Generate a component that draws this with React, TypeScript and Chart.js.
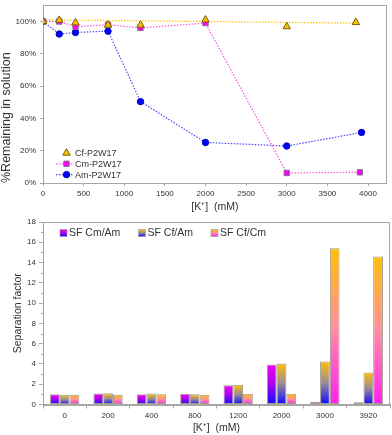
import React, { useEffect, useRef } from 'react';
import { Chart, registerables } from 'chart.js';

Chart.register(...registerables);

// ---------- Top chart data ----------
const cfX = [0, 200, 400, 800, 1200, 2000, 3000, 3850];
const cfY = [100, 100.8, 99.2, 97.8, 97.8, 101, 96.8, 99.4];
const cmX = [0, 200, 400, 800, 1200, 2000, 3000, 3900];
const cmY = [100, 100, 96.8, 98, 96, 99, 6.2, 6.6];
const amX = [0, 200, 400, 800, 1200, 2000, 3000, 3920];
const amY = [100, 92.2, 93.2, 94, 50.4, 25.1, 22.9, 31.3];
const cfTrendX = [0, 3850];
const cfTrendY = [101, 99];
const topXTicks = [0, 500, 1000, 1500, 2000, 2500, 3000, 3500, 4000];
const topYTicks = [0, 20, 40, 60, 80, 100];
const topLabels = ['Cf-P2W17', 'Cm-P2W17', 'Am-P2W17'];

// ---------- Bottom chart data ----------
const sfCategories = ['0', '200', '400', '800', '1200', '2000', '3000', '3920'];
const sfCmAm = [1.02, 1.09, 1.02, 1.05, 1.91, 3.95, 0.26, 0.23];
const sfCfAm = [0.97, 1.12, 1.09, 1.02, 1.94, 4.05, 4.24, 3.16];
const sfCfCm = [0.95, 0.95, 1.02, 0.95, 1.05, 1.05, 15.4, 14.6];
const sfLabels = ['SF Cm/Am', 'SF Cf/Am', 'SF Cf/Cm'];
const sfYTicks = [0, 2, 4, 6, 8, 10, 12, 14, 16, 18];

const FONT = "'Liberation Sans', Arial, sans-serif";
const AXIS = '#a6a6a6';
const TEXT = '#333333';

type Stop = [number, string];
const gradCmAm: Stop[] = [[0, '#f200f2'], [0.45, '#b400f0'], [1, '#1010ff']];
const gradCfAm: Stop[] = [[0, '#ffc000'], [0.5, '#9a8a9a'], [1, '#0a0aff']];
const gradCfCm: Stop[] = [[0, '#ffc000'], [0.5, '#ff90a0'], [1, '#ff22ee']];

function barGradient(stops: Stop[]) {
  return (c: any) => {
    const chart = c.chart;
    const ys = chart.scales && chart.scales.y;
    if (c.type !== 'data' || !ys || !chart.chartArea) return stops[0][1];
    const v = c.parsed ? c.parsed.y : 0;
    const top = ys.getPixelForValue(v);
    const bottom = ys.getPixelForValue(0);
    if (!isFinite(top) || !isFinite(bottom) || Math.abs(bottom - top) < 0.5) return stops[0][1];
    const g = chart.ctx.createLinearGradient(0, top, 0, bottom);
    stops.forEach(([o, col]) => g.addColorStop(o, col));
    return g;
  };
}

const boxPlugin = {
  id: 'boxPlugin',
  beforeDatasetsDraw(chart: any) {
    const { ctx, chartArea: a } = chart;
    ctx.save();
    ctx.strokeStyle = AXIS;
    ctx.lineWidth = 1;
    ctx.strokeRect(Math.round(a.left) + 0.5, Math.round(a.top) + 0.5, Math.round(a.right - a.left) - 1, Math.round(a.bottom - a.top));
    ctx.restore();
  },
};

function drawMarker(ctx: CanvasRenderingContext2D, style: string, x: number, y: number, r: number, fill: string, stroke: string) {
  ctx.beginPath();
  if (style === 'triangle') {
    ctx.moveTo(x, y - r);
    ctx.lineTo(x + r * 0.866, y + r * 0.5);
    ctx.lineTo(x - r * 0.866, y + r * 0.5);
    ctx.closePath();
  } else if (style === 'rect') {
    const s = r * Math.SQRT1_2;
    ctx.rect(x - s, y - s, 2 * s, 2 * s);
  } else {
    ctx.arc(x, y, r, 0, Math.PI * 2);
  }
  ctx.fillStyle = fill;
  ctx.fill();
  ctx.strokeStyle = stroke;
  ctx.lineWidth = 1;
  ctx.stroke();
}

const topLegendPlugin = {
  id: 'topLegend',
  afterDatasetsDraw(chart: any) {
    const { ctx, chartArea: a } = chart;
    ctx.save();
    ctx.font = `9px ${FONT}`;
    ctx.textBaseline = 'middle';
    ctx.textAlign = 'left';
    chart.data.datasets.forEach((d: any, i: number) => {
      if (!d.inLegend) return;
      const y = a.bottom - 30 + i * 10.8;
      const mx = a.left + 23.5;
      if (d.showLine) {
        ctx.save();
        ctx.strokeStyle = d.borderColor;
        ctx.lineWidth = d.borderWidth;
        ctx.setLineDash(d.borderDash);
        ctx.beginPath();
        ctx.moveTo(a.left + 13, y);
        ctx.lineTo(a.left + 31, y);
        ctx.stroke();
        ctx.restore();
      }
      drawMarker(ctx, d.pointStyle, mx, y, d.pointRadius, d.pointBackgroundColor, d.pointBorderColor);
      ctx.fillStyle = TEXT;
      ctx.fillText(d.label, a.left + 32, y + 0.5);
    });
    ctx.restore();
  },
};

const ticksPlugin = {
  id: 'minorTicks',
  afterDraw(chart: any) {
    const ys = chart.scales.y;
    const { ctx, chartArea: a } = chart;
    ctx.save();
    ctx.strokeStyle = AXIS;
    ctx.lineWidth = 1;
    for (let v = 1; v < 18; v += 2) {
      const y = Math.round(ys.getPixelForValue(v)) + 0.5;
      ctx.beginPath();
      ctx.moveTo(a.left - 2, y);
      ctx.lineTo(a.left, y);
      ctx.stroke();
    }
    ctx.restore();
  },
};

const botLegendPlugin = {
  id: 'botLegend',
  afterDatasetsDraw(chart: any) {
    const { ctx, chartArea: a } = chart;
    const xs = [a.left + 17, a.left + 95.5, a.left + 168];
    const y = a.top + 11;
    ctx.save();
    ctx.font = `10.5px ${FONT}`;
    ctx.textBaseline = 'middle';
    ctx.textAlign = 'left';
    chart.data.datasets.forEach((d: any, i: number) => {
      const bx = xs[i];
      const g = ctx.createLinearGradient(0, y - 3.5, 0, y + 3.5);
      d.stops.forEach(([o, col]: Stop) => g.addColorStop(o, col));
      ctx.fillStyle = g;
      ctx.fillRect(bx, y - 3.5, 7, 7);
      ctx.strokeStyle = '#999';
      ctx.lineWidth = 0.6;
      ctx.strokeRect(bx, y - 3.5, 7, 7);
      ctx.fillStyle = TEXT;
      ctx.fillText(d.label, bx + 9, y + 0.5);
    });
    ctx.restore();
  },
};

function topConfig(): any {
  const dotted = [1.5, 1.5];
  return {
    type: 'scatter',
    data: {
      datasets: [
        {
          label: topLabels[0], inLegend: true,
          data: cfX.map((x, i) => ({ x, y: cfY[i] })),
          showLine: false, pointStyle: 'triangle', pointRadius: 4.3,
          pointBackgroundColor: '#ffc000', pointBorderColor: '#7a5c00', pointBorderWidth: 1,
          borderColor: '#ffc000', borderWidth: 1, borderDash: dotted,
        },
        {
          label: topLabels[1], inLegend: true,
          data: cmX.map((x, i) => ({ x, y: cmY[i] })),
          showLine: true, pointStyle: 'rect', pointRadius: 3.8,
          pointBackgroundColor: '#ff00ff', pointBorderColor: '#8a6a8a', pointBorderWidth: 1,
          borderColor: '#ff55dd', borderWidth: 1.2, borderDash: dotted,
        },
        {
          label: topLabels[2], inLegend: true,
          data: amX.map((x, i) => ({ x, y: amY[i] })),
          showLine: true, pointStyle: 'circle', pointRadius: 3.2,
          pointBackgroundColor: '#0000ff', pointBorderColor: '#0000b0', pointBorderWidth: 1,
          borderColor: '#4a4aff', borderWidth: 1.2, borderDash: dotted,
        },
        {
          label: 'Cf trend', inLegend: false,
          data: cfTrendX.map((x, i) => ({ x, y: cfTrendY[i] })),
          showLine: true, pointRadius: 0,
          borderColor: '#ffc000', borderWidth: 1.2, borderDash: dotted,
        },
      ],
    },
    options: {
      responsive: false,
      animation: false,
      events: [],
      layout: { padding: { left: 0, right: 2, top: 1, bottom: 0 } },
      plugins: { legend: { display: false }, tooltip: { enabled: false } },
      scales: {
        x: {
          type: 'linear', min: 0, max: 4230,
          afterBuildTicks: (s: any) => { s.ticks = topXTicks.map((v) => ({ value: v })); },
          afterFit: (s: any) => { s.height = 29; s.paddingLeft = 0; s.paddingRight = 0; },
          grid: { drawOnChartArea: false, drawTicks: true, tickLength: 3, color: AXIS },
          border: { display: true, color: AXIS },
          ticks: { font: { size: 8, family: FONT }, color: TEXT, padding: 3, maxRotation: 0, callback: (v: any) => String(v) },
          title: { display: true, text: '[K\u207A]  (mM)', font: { size: 10.5, family: FONT, lineHeight: 1 }, color: TEXT, padding: 0 },
        },
        y: {
          type: 'linear', min: 0, max: 110,
          afterBuildTicks: (s: any) => { s.ticks = topYTicks.map((v) => ({ value: v })); },
          afterFit: (s: any) => { s.width = 43; s.paddingTop = 0; s.paddingBottom = 0; },
          grid: { drawOnChartArea: false, drawTicks: true, tickLength: 3, color: AXIS },
          border: { display: true, color: AXIS },
          ticks: { font: { size: 8, family: FONT }, color: TEXT, padding: 4, callback: (v: any) => v + '%' },
          title: { display: true, text: '%Remaining in solution', align: 'start', font: { size: 12.5, family: FONT, lineHeight: 1 }, color: TEXT, padding: 0 },
        },
      },
    },
    plugins: [boxPlugin, topLegendPlugin],
  };
}

function botConfig(): any {
  const mk = (label: string, data: number[], stops: Stop[]) => ({
    label, data, stops,
    backgroundColor: barGradient(stops),
    borderColor: '#a09a90', borderWidth: 1, borderSkipped: false,
    categoryPercentage: 0.675, barPercentage: 1,
  });
  return {
    type: 'bar',
    data: {
      labels: sfCategories,
      datasets: [mk(sfLabels[0], sfCmAm, gradCmAm), mk(sfLabels[1], sfCfAm, gradCfAm), mk(sfLabels[2], sfCfCm, gradCfCm)],
    },
    options: {
      responsive: false,
      animation: false,
      events: [],
      layout: { padding: { left: 0, right: 2, top: 10, bottom: 0 } },
      plugins: { legend: { display: false }, tooltip: { enabled: false } },
      scales: {
        x: {
          offset: true,
          afterFit: (s: any) => { s.height = 30.5; s.paddingLeft = 0; s.paddingRight = 0; },
          grid: { offset: true, drawOnChartArea: false, drawTicks: true, tickLength: 4, color: AXIS },
          border: { display: true, color: AXIS },
          ticks: { font: { size: 8, family: FONT }, color: TEXT, padding: 2, maxRotation: 0 },
          title: { display: true, text: '[K\u207A]  (mM)', font: { size: 10.5, family: FONT, lineHeight: 1.2 }, color: TEXT, padding: { top: 0, bottom: 1 } },
        },
        y: {
          type: 'linear', min: 0, max: 18,
          afterBuildTicks: (s: any) => { s.ticks = sfYTicks.map((v) => ({ value: v })); },
          afterFit: (s: any) => { s.width = 43; s.paddingTop = 0; s.paddingBottom = 0; },
          grid: { drawOnChartArea: false, drawTicks: true, tickLength: 4, color: AXIS },
          border: { display: true, color: AXIS },
          ticks: { font: { size: 8, family: FONT }, color: TEXT, padding: 3 },
          title: { display: true, text: 'Separation factor', font: { size: 10.5, family: FONT, lineHeight: 1.2 }, color: TEXT, padding: { top: 11.5, bottom: 0 } },
        },
      },
    },
    plugins: [boxPlugin, ticksPlugin, botLegendPlugin],
  };
}

export default function App() {
  const topRef = useRef<HTMLCanvasElement>(null);
  const botRef = useRef<HTMLCanvasElement>(null);
  useEffect(() => {
    const c1 = new Chart(topRef.current as HTMLCanvasElement, topConfig());
    const c2 = new Chart(botRef.current as HTMLCanvasElement, botConfig());
    return () => {
      c1.destroy();
      c2.destroy();
    };
  }, []);
  return (
    <div style={{ position: 'absolute', left: 0, top: 0, width: 392, height: 435, background: '#fff' }}>
      <div style={{ position: 'absolute', left: 0, top: 0, width: 392, height: 212 }}>
        <canvas ref={topRef} width={392} height={212} style={{ display: 'block' }} />
      </div>
      <div style={{ position: 'absolute', left: 0, top: 212, width: 392, height: 223 }}>
        <canvas ref={botRef} width={392} height={223} style={{ display: 'block' }} />
      </div>
    </div>
  );
}
